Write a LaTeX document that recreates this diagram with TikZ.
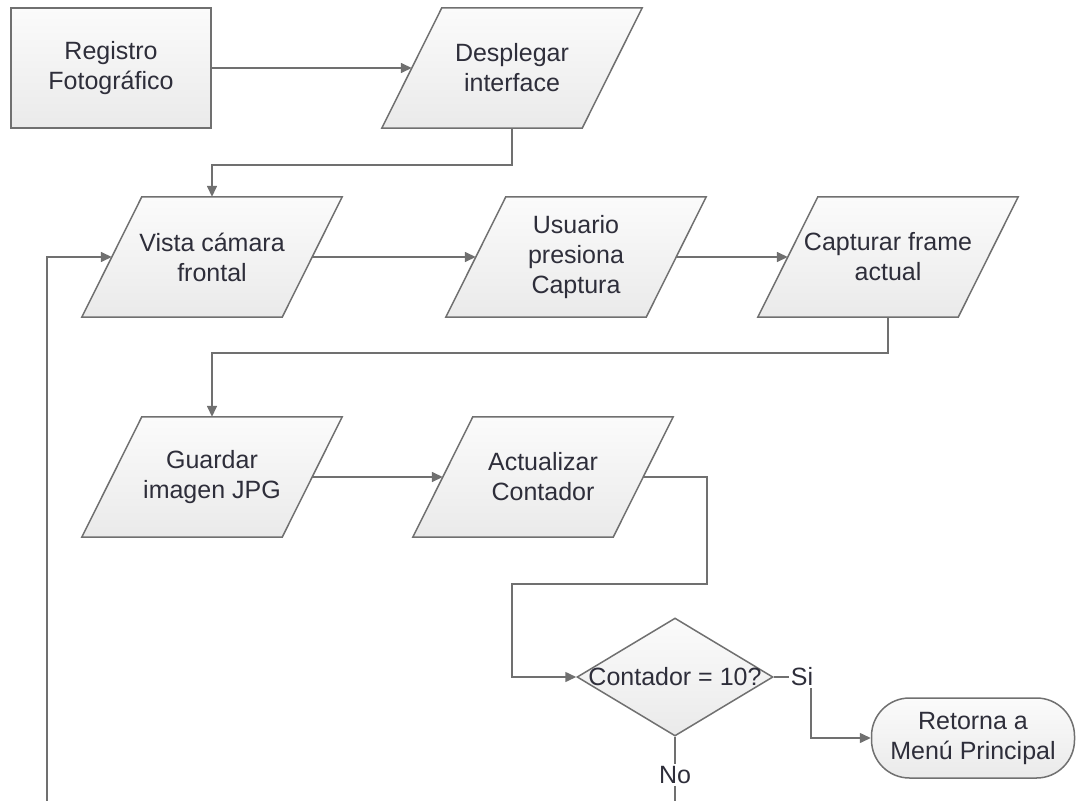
\documentclass[tikz,border=0pt]{standalone}
\usepackage{fontspec}
\setmainfont{Liberation Sans}
\usetikzlibrary{shapes.geometric,arrows.meta,calc,backgrounds}

\definecolor{edgegray}{HTML}{707070}
\definecolor{inkgray}{HTML}{2E2E3A}
\definecolor{shadetop}{HTML}{FBFBFB}
\definecolor{shadebot}{HTML}{EAEAEA}

\tikzset{
  skin/.style={draw=edgegray, line width=1.5pt, top color=shadetop, bottom color=shadebot},
  base/.style={skin, text=inkgray, align=center, inner sep=0pt,
    font=\fontsize{25}{30}\selectfont},
  procbox/.style={base, rectangle, minimum width=200pt, minimum height=120pt},
  % data boxes: the node is the mid-width body; its slanted outline is drawn behind it
  iobox/.style={rectangle, text=inkgray, align=center, inner sep=0pt,
    font=\fontsize{25}{30}\selectfont, minimum width=200pt, minimum height=120pt},
  decision/.style={base, diamond, minimum width=196pt, minimum height=118pt},
  endbox/.style={base, rectangle, rounded corners=38pt, minimum width=203pt, minimum height=80pt},
  lbl/.style={text=inkgray, inner sep=2pt, font=\fontsize{25}{30}\selectfont},
  link/.style={draw=edgegray, line width=1.5pt},
  flow/.style={link, -{Triangle[length=11pt,width=10pt]}}
}

\begin{document}
\begin{tikzpicture}[x=1pt, y=-1pt]
  \useasboundingbox (0,0) rectangle (1086,800);
  \clip (0,0) rectangle (1086,800);

  % process steps
  \node[procbox] (reg)  at (111,68)  {Registro\\Fotográfico};
  \node[iobox]   (desp) at (512,68)  {Desplegar\\interface};
  \node[iobox]   (vista) at (212,257) {Vista cámara\\frontal};
  \node[iobox]   (usu)  at (576,257) {Usuario\\presiona\\Captura};
  \node[iobox]   (cap)  at (888,257) {Capturar frame\\actual};
  \node[iobox]   (guar) at (212,477) {Guardar\\imagen JPG};
  \node[iobox]   (act)  at (543,477) {Actualizar\\Contador};
  \node[decision] (dec) at (675,677) {};
  \node[lbl] (dectxt) at (dec.center) {Contador = 10?};
  \node[endbox]  (term) at (973,738) {Retorna a\\Menú Principal};

  % slanted outlines of the data boxes
  \begin{scope}[on background layer]
    \foreach \n in {desp,vista,usu,cap,guar,act} {
      \path[skin] ($(\n.north west)+(30,0)$) -- ($(\n.north east)+(30,0)$)
        -- ($(\n.south east)+(-30,0)$) -- ($(\n.south west)+(-30,0)$) -- cycle;
    }
  \end{scope}

  % branch labels
  \node[lbl] (si) at (802,677) {Si};
  \node[lbl] (no) at (675,775) {No};

  % helper points for the routed connectors
  \coordinate (j1) at (707,584);
  \coordinate (j2) at (512,584);
  \coordinate (loop) at (47,815);

  % connectors
  \draw[flow] (reg.east) -- (desp.west);
  \draw[flow] (desp.south) -- ++(0,37) -| (vista.north);
  \draw[flow] (vista.east) -- (usu.west);
  \draw[flow] (usu.east) -- (cap.west);
  \draw[flow] (cap.south) -- ++(0,36) -| (guar.north);
  \draw[flow] (guar.east) -- (act.west);
  \draw[flow] (act.east) -| (j1) -- (j2) |- (dec.west);
  \draw[link] (dec.east) -- (si.west);
  \draw[flow] ([xshift=9pt]si.south) |- (term.west);
  \draw[link] (dec.south) -- (no.north);
  \draw[flow] (no.south) |- (loop) |- (vista.west);
\end{tikzpicture}
\end{document}
